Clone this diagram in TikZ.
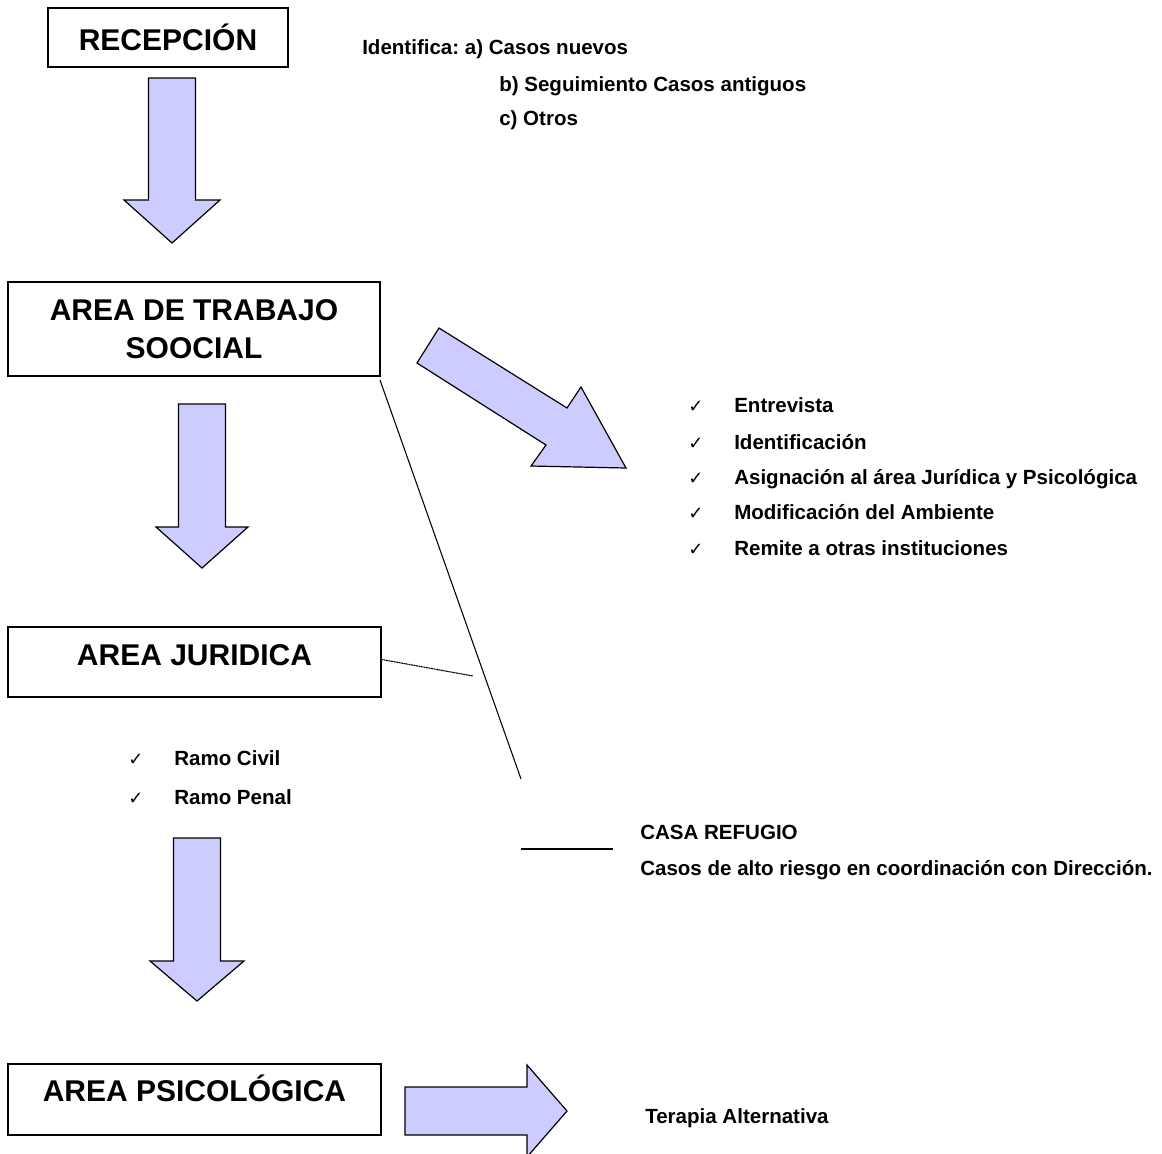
\documentclass[tikz,border=0pt]{standalone}
\usepackage{fontspec}
\setmainfont{Liberation Sans}
\newfontfamily\simbolos{DejaVu Sans}
\usetikzlibrary{positioning}
\definecolor{lila}{RGB}{204,204,255}
\frenchspacing

% flecha gruesa hacia abajo: centro x, arriba, inicio de la punta, punta, media punta
\newcommand{\flechaabajo}[5]{%
  \draw[bloque] (#1-23.5,#2) -- (#1+23.5,#2) -- (#1+23.5,#3) -- (#1+#5,#3)
    -- (#1,#4) -- (#1-#5,#3) -- (#1-23.5,#3) -- cycle;}
\newcommand{\marca}{\makebox[34.5pt][l]{\simbolos\fontsize{13.5}{13.5}\selectfont ✓}}

\begin{document}
\begin{tikzpicture}[x=0.75pt,y=-0.75pt,
    caja/.style={draw,line width=1.1pt,inner sep=0pt,outer sep=0pt,anchor=north west,
                 align=center,font=\bfseries\fontsize{22.5}{28.5}\selectfont},
    bloque/.style={draw,fill=lila,line width=0.9pt,line join=miter},
    texto/.style={anchor=base west,inner sep=0pt,font=\bfseries\fontsize{15.4}{18}\selectfont},
    linea/.style={line width=0.8pt}]
\useasboundingbox (0,0) rectangle (1162,1153);

\node[caja,minimum width=180pt,minimum height=44.25pt](recep) at (48,8) {RECEPCIÓN};
\node[caja,minimum width=279pt,minimum height=70.5pt](social) at (8,282) {AREA DE TRABAJO\\SOOCIAL};
\node[caja,minimum width=279.75pt,minimum height=52.5pt,text height=16.1pt,text depth=10.5pt](juri) at (8,627) {AREA JURIDICA};
\node[caja,minimum width=279.75pt,minimum height=53.25pt,text height=16.1pt,text depth=13.5pt](psico) at (8,1064) {AREA PSICOLÓGICA};

\node[texto](ident) at (362,54) {Identifica: a) Casos nuevos};
\node[texto](segui) at (499,91) {b) Seguimiento Casos antiguos};
\node[texto](otros) at (499,125) {c) Otros};

\node[texto](entre) at (688,412) {\marca Entrevista};
\node[texto](ident2) at (688,449) {\marca Identificación};
\node[texto](asig) at (688,484) {\marca Asignación al área Jurídica y Psicológica};
\node[texto](modif) at (688,519) {\marca Modificación del Ambiente};
\node[texto](remite) at (688,555) {\marca Remite a otras instituciones};

\node[texto](civil) at (128,765) {\marca Ramo Civil};
\node[texto](penal) at (128,804) {\marca Ramo Penal};

\node[texto](casa) at (640,839) {CASA REFUGIO};
\node[texto](riesgo) at (640,875) {Casos de alto riesgo en coordinación con Dirección.};
\node[texto](terapia) at (645,1123) {Terapia Alternativa};

\flechaabajo{172}{78}{200}{243}{48}
\flechaabajo{202}{404}{527}{568}{46}
\flechaabajo{197}{838}{961}{1001}{47}
\draw[bloque] (439,328) -- (567,408) -- (581,387) -- (626,468) -- (531,466)
  -- (546,445) -- (417,363) -- cycle;
\draw[bloque] (405,1087) -- (527,1087) -- (527,1065) -- (567,1111)
  -- (527,1157) -- (527,1135) -- (405,1135) -- cycle;

\coordinate (fin) at (521,779);
\coordinate (corte) at (473,676);
\coordinate (r1) at (521,849);
\coordinate (r2) at (613,849);
\draw[linea] ([yshift=-3pt]social.south east) -- (fin);
\draw[line width=0.8pt,dash pattern=on 1.5pt off 0.4pt] ([yshift=2pt]juri.east) -- (corte);
\draw[linea] (r1) -- (r2);
\end{tikzpicture}
\end{document}
